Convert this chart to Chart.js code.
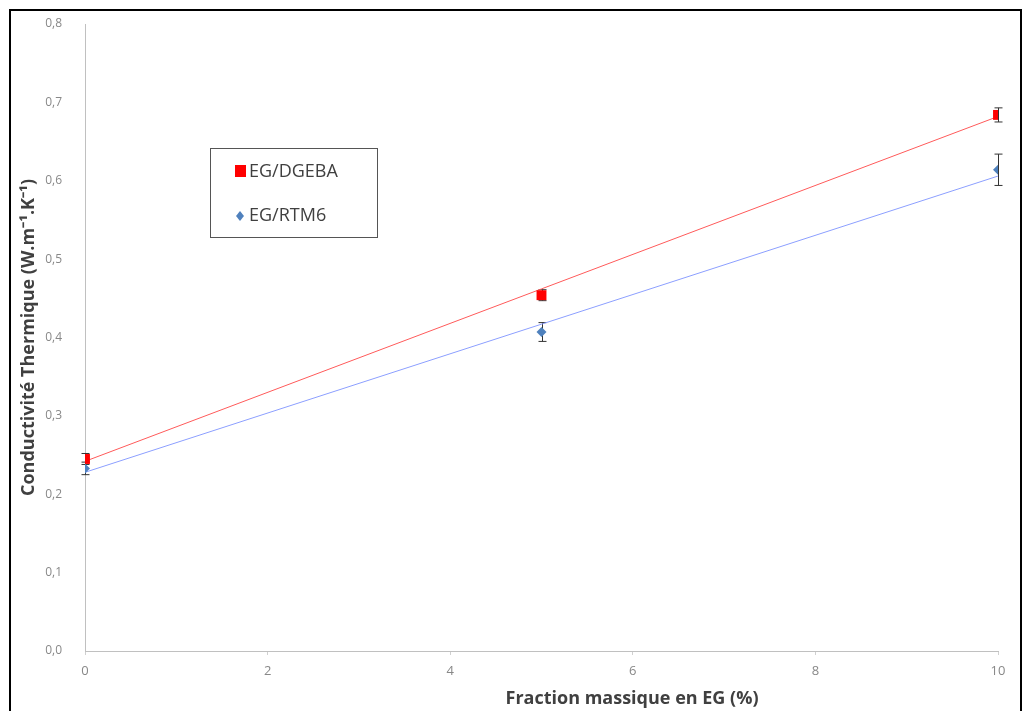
<!DOCTYPE html>
<html>
<head>
<meta charset="utf-8">
<script src="https://cdn.jsdelivr.net/npm/chart.js@4.4.0/dist/chart.umd.min.js"></script>
<style>
  html, body { margin: 0; padding: 0; background: #fff; }
  #wrap { position: relative; width: 1026px; height: 711px; }
</style>
</head>
<body>
<div id="wrap"><canvas id="chart" width="1026" height="711"></canvas></div>
<script>
const fractionEG = [0, 5, 10];
const dgebaValues = [0.245, 0.454, 0.684];
const dgebaErrors = [0.007, 0.007, 0.009];
const rtm6Values = [0.233, 0.407, 0.614];
const rtm6Errors = [0.008, 0.012, 0.020];
// Linear trend lines (end points)
const trendX = [0, 10];
const dgebaTrend = [0.242, 0.682];
const rtm6Trend = [0.228, 0.606];
const yTicks = [0, 0.1, 0.2, 0.3, 0.4, 0.5, 0.6, 0.7, 0.8];
const xTicks = [0, 2, 4, 6, 8, 10];
const xTitle = 'Fraction massique en EG (%)';

const toPoints = (xs, ys) => xs.map((x, i) => ({ x: x, y: ys[i] }));

// error bars, drawn under the markers through the chart scales
const errorBars = {
    id: 'errorBars',
    beforeDatasetsDraw(chart) {
        const ctx = chart.ctx;
        const xs = chart.scales.x, ys = chart.scales.y;
        [[dgebaValues, dgebaErrors], [rtm6Values, rtm6Errors]].forEach(function(set) {
            ctx.save();
            ctx.strokeStyle = '#333';
            ctx.lineWidth = 1;
            fractionEG.forEach(function(x, i) {
                const px = Math.round(xs.getPixelForValue(x)) + 0.5;
                const top = ys.getPixelForValue(set[0][i] + set[1][i]);
                const bot = ys.getPixelForValue(set[0][i] - set[1][i]);
                ctx.beginPath();
                ctx.moveTo(px, top); ctx.lineTo(px, bot);
                ctx.moveTo(px - 4, top); ctx.lineTo(px + 4, top);
                ctx.moveTo(px - 4, bot); ctx.lineTo(px + 4, bot);
                ctx.stroke();
            });
            ctx.restore();
        });
    }
};

// outer frame, x title and boxed legend
const frameAndLegend = {
    id: 'frameAndLegend',
    afterDraw(chart) {
        const ctx = chart.ctx;
        ctx.save();
        ctx.strokeStyle = '#000';
        ctx.lineWidth = 2;
        ctx.strokeRect(10, 10, 1011, 720);

        ctx.font = 'bold 18px "Open Sans", sans-serif';
        ctx.fillStyle = '#404040';
        ctx.textAlign = 'center';
        ctx.textBaseline = 'middle';
        ctx.fillText(xTitle, 632, 699);

        ctx.textAlign = 'left';
        ctx.strokeStyle = '#555';
        ctx.lineWidth = 1;
        ctx.strokeRect(210.5, 148.5, 167, 89);

        ctx.font = '18px "Open Sans", sans-serif';
        ctx.fillStyle = '#ff0000';
        ctx.fillRect(235, 165, 11, 12);
        ctx.fillStyle = '#404040';
        ctx.fillText('EG/DGEBA', 249, 172);

        ctx.fillStyle = '#4f81bd';
        ctx.beginPath();
        ctx.moveTo(240, 211); ctx.lineTo(244, 216); ctx.lineTo(240, 221); ctx.lineTo(236, 216);
        ctx.closePath();
        ctx.fill();
        ctx.fillStyle = '#404040';
        ctx.fillText('EG/RTM6', 249, 216);
        ctx.restore();
    }
};

new Chart(document.getElementById('chart'), {
    type: 'scatter',
    data: {
        datasets: [
            {
                label: 'EG/DGEBA',
                data: toPoints(fractionEG, dgebaValues),
                pointStyle: 'rect',
                pointRadius: 7,
                backgroundColor: '#ff0000',
                borderColor: '#ff0000',
                borderWidth: 0,
                order: 1
            },
            {
                label: 'EG/RTM6',
                data: toPoints(fractionEG, rtm6Values),
                pointStyle: 'rectRot',
                pointRadius: 5,
                backgroundColor: '#4f81bd',
                borderColor: '#4f81bd',
                borderWidth: 0,
                order: 2
            },
            {
                label: 'trend DGEBA',
                data: toPoints(trendX, dgebaTrend),
                showLine: true,
                pointRadius: 0,
                borderColor: '#ff5a5a',
                borderWidth: 1,
                order: 3
            },
            {
                label: 'trend RTM6',
                data: toPoints(trendX, rtm6Trend),
                showLine: true,
                pointRadius: 0,
                borderColor: '#8c9fff',
                borderWidth: 1,
                order: 4
            }
        ]
    },
    options: {
        responsive: false,
        animation: false,
        layout: { padding: { left: 16, right: 28, top: 24, bottom: 2 } },
        plugins: {
            legend: { display: false },
            tooltip: { enabled: false }
        },
        scales: {
            x: {
                type: 'linear',
                min: 0, max: 10,
                afterBuildTicks: (axis) => { axis.ticks = xTicks.map(v => ({ value: v })); },
                afterFit: (axis) => { axis.height = 58; },
                grid: { display: true, drawOnChartArea: false, drawTicks: true, tickLength: 4, color: '#d0d0d0' },
                border: { display: true, color: '#c0c0c0', width: 1 },
                ticks: {
                    padding: 8,
                    color: '#888',
                    font: { family: '"Open Sans", sans-serif', size: 13 }
                }
            },
            y: {
                type: 'linear',
                min: 0, max: 0.8,
                afterBuildTicks: (axis) => { axis.ticks = yTicks.map(v => ({ value: v })); },
                afterFit: (axis) => { axis.width = 69; },
                grid: { display: false },
                border: { display: true, color: '#c0c0c0', width: 1 },
                ticks: {
                    padding: 15,
                    color: '#888',
                    font: { family: '"Open Sans", sans-serif', size: 12 },
                    callback: (v) => v.toFixed(1).replace('.', ',')
                },
                title: {
                    display: true,
                    text: 'Conductivité Thermique (W.m\u207B\u00B9.K\u207B\u00B9)',
                    color: '#404040',
                    padding: { top: 2, bottom: 0 },
                    font: { family: '"Open Sans", sans-serif', size: 18, weight: 'bold' }
                }
            }
        }
    },
    plugins: [errorBars, frameAndLegend]
});
</script>
</body>
</html>
